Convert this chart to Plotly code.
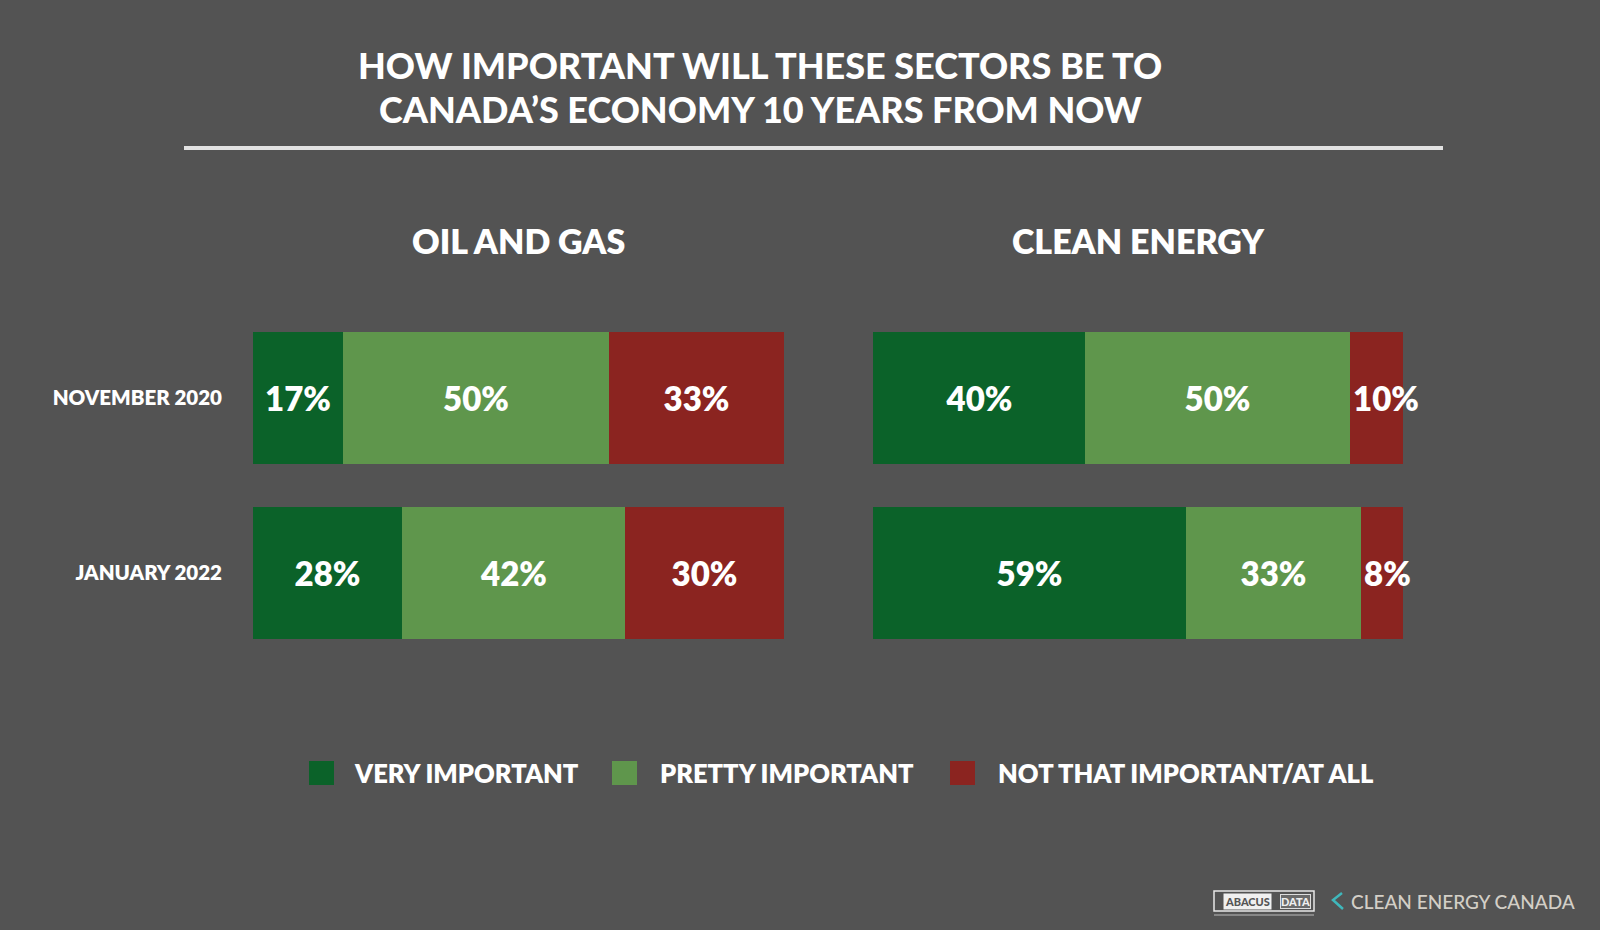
import plotly.graph_objects as go

# ---------------- data ----------------
periods = ["NOVEMBER 2020", "JANUARY 2022"]
sectors = ["OIL AND GAS", "CLEAN ENERGY"]
responses = ["VERY IMPORTANT", "PRETTY IMPORTANT", "NOT THAT IMPORTANT/AT ALL"]

oil_gas_very = [17, 28]
oil_gas_pretty = [50, 42]
oil_gas_not = [33, 30]

clean_very = [40, 59]
clean_pretty = [50, 33]
clean_not = [10, 8]

title_lines = ["HOW IMPORTANT WILL THESE SECTORS BE TO", "CANADA\u2019S ECONOMY 10 YEARS FROM NOW"]

# ---------------- style ----------------
BG = "#535353"
colors = ["#0b6229", "#5f964c", "#8b2420"]
FONT = "Lato"
W, H = 1600, 930


def px(x):
    return x / W


def py(y):
    return 1 - y / H


fig = go.Figure()

panels = [
    ("x", "y", [oil_gas_very, oil_gas_pretty, oil_gas_not], ["middle", "middle", "middle"]),
    ("x2", "y2", [clean_very, clean_pretty, clean_not], ["middle", "middle", "start"]),
]
for xa, ya, vals_list, anchors in panels:
    for name, vals, col, anc in zip(responses, vals_list, colors, anchors):
        fig.add_trace(go.Bar(
            orientation="h",
            x=vals,
            y=periods,
            name=name,
            marker=dict(color=col, line=dict(width=0)),
            text=[f"{v}%" for v in vals],
            textposition="inside",
            insidetextanchor=anc,
            textangle=0,
            textfont=dict(family=FONT, size=33, color="white", weight=800),
            cliponaxis=False,
            width=0.756,
            xaxis=xa,
            yaxis=ya,
            showlegend=False,
            hoverinfo="skip",
        ))

y_domain = [py(660), py(311)]
fig.update_layout(
    width=W, height=H,
    margin=dict(l=0, r=0, t=0, b=0),
    paper_bgcolor=BG,
    plot_bgcolor=BG,
    barmode="stack",
    bargap=0,
    uniformtext=dict(minsize=33, mode="show"),
    xaxis=dict(domain=[px(253), px(784)], range=[0, 100], visible=False, anchor="y"),
    xaxis2=dict(domain=[px(873), px(1403)], range=[0, 100], visible=False, anchor="y2"),
    yaxis=dict(domain=y_domain, anchor="x", autorange="reversed",
               showgrid=False, zeroline=False, showline=False, ticks="",
               ticklabelstandoff=30,
               tickfont=dict(family=FONT, size=20.5, color="white", weight=800)),
    yaxis2=dict(domain=y_domain, anchor="x2", autorange="reversed",
                showgrid=False, zeroline=False, showline=False, ticks="",
                showticklabels=False),
    showlegend=False,
)

annotations = []
# title
for line, yc in zip(title_lines, [65, 109]):
    annotations.append(dict(
        text=line, x=px(760), y=py(yc), xref="paper", yref="paper",
        xanchor="center", yanchor="middle", showarrow=False,
        font=dict(family=FONT, size=36, color="white", weight=900)))

# sector titles
for sec, xr in zip(sectors, ["x domain", "x2 domain"]):
    annotations.append(dict(
        text=sec, x=0.5, y=py(240), xref=xr, yref="paper",
        xanchor="center", yanchor="middle", showarrow=False,
        font=dict(family=FONT, size=34, color="white", weight=800)))

# legend
legend_sq = [309, 612, 950]
legend_tx = [352, 658, 996]
shapes = []
for name, col, sx, tx in zip(responses, colors, legend_sq, legend_tx):
    shapes.append(dict(type="rect", xref="paper", yref="paper",
                       x0=px(sx), x1=px(sx + 25), y0=py(785), y1=py(761),
                       fillcolor=col, line=dict(width=0)))
    annotations.append(dict(
        text=name, x=px(tx), y=py(773), xref="paper", yref="paper",
        xanchor="left", yanchor="middle", showarrow=False,
        font=dict(family=FONT, size=25.5, color="white", weight=800)))

# divider under title
shapes.append(dict(type="line", xref="paper", yref="paper",
                   x0=px(184), x1=px(1443), y0=py(148), y1=py(148),
                   line=dict(color="#e2e2e2", width=4)))

# logos (bottom right)
shapes.append(dict(type="rect", xref="paper", yref="paper",
                   x0=px(1214), x1=px(1314), y0=py(911), y1=py(891),
                   fillcolor="rgba(0,0,0,0)", line=dict(color="#e8e8e8", width=1.5)))
shapes.append(dict(type="line", xref="paper", yref="paper",
                   x0=px(1214), x1=px(1314), y0=py(915), y1=py(915),
                   line=dict(color="#bbbbbb", width=1)))
annotations.append(dict(
    text="ABACUS", x=px(1247), y=py(901), xref="paper", yref="paper",
    xanchor="center", yanchor="middle", showarrow=False, bgcolor="#f0f0f0",
    borderpad=1, font=dict(family=FONT, size=11, color="#555555", weight=900)))
annotations.append(dict(
    text="DATA", x=px(1295), y=py(901), xref="paper", yref="paper",
    xanchor="center", yanchor="middle", showarrow=False, bgcolor="#6a6a6a",
    bordercolor="#dddddd", borderwidth=1, borderpad=0,
    font=dict(family=FONT, size=11, color="#eeeeee", weight=900)))
shapes.append(dict(type="path", xref="paper", yref="paper",
                   path=f"M {px(1342)} {py(893)} L {px(1333)} {py(900)} L {px(1343)} {py(909)}",
                   line=dict(color="#3fb7bb", width=2.5)))
annotations.append(dict(
    text="CLEAN ENERGY CANADA", x=px(1349), y=py(901), xref="paper", yref="paper",
    xanchor="left", yanchor="middle", showarrow=False,
    font=dict(family=FONT, size=19, color="#d3cfc7", weight=500)))

fig.update_layout(annotations=annotations, shapes=shapes)

fig.write_html(
    "out.html",
    config={"displayModeBar": False},
    post_script="document.body.style.margin='0';document.body.style.background='%s';" % BG,
)
